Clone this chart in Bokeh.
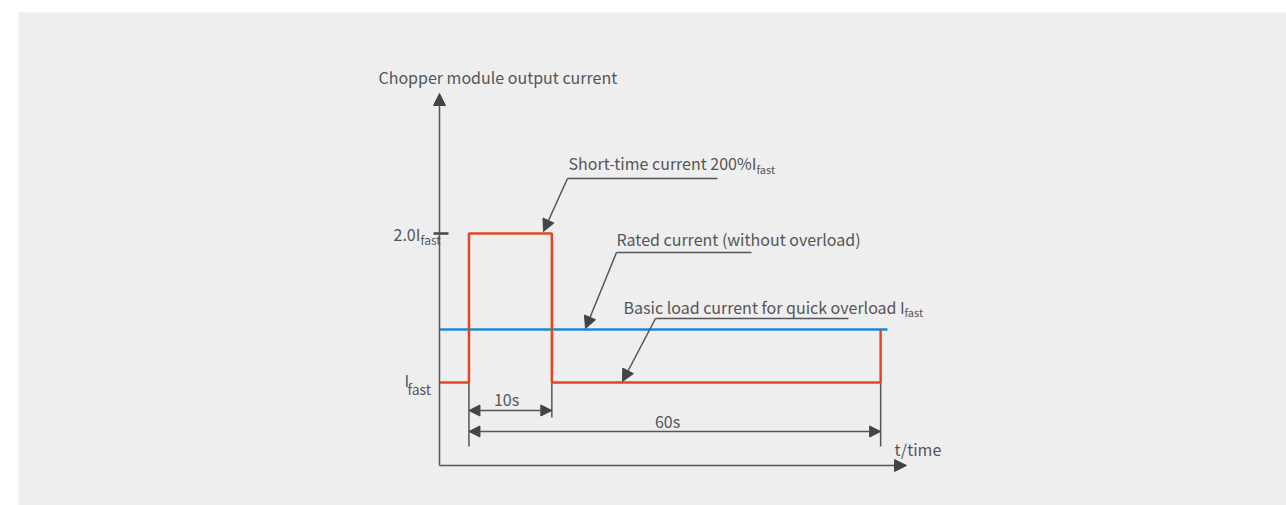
from bokeh.plotting import figure
from bokeh.models import Arrow, NormalHead, Label, Range1d
from bokeh.embed import file_html
from bokeh.resources import INLINE

# ---- schematic data (time positions in schematic units, current in multiples of I_fast) ----
red_time = [0, 4.3, 4.3, 16.4, 16.4, 64.4, 64.4]
red_current = [1.0, 1.0, 2.0, 2.0, 1.0, 1.0, 1.356]
rated_time = [0, 65.4]
rated_current = [1.356, 1.356]
t_rise, t_fall, t_end = 4.3, 16.4, 64.4
short_level, fast_level, rated_level = 2.0, 1.0, 1.356
dim_labels = ["10s", "60s"]
y_ticks = ["2.0I", "I"]

# ---- layout helpers (page pixel -> data) ----
def X(px):
    return (px - 439) / 6.85

def Y(py):
    return 1 + (382 - py) / 149.0

FONT = "Noto Sans CJK SC"
TXT = "#555555"
LINE = "#555555"
RED = "#e2481f"
BLUE = "#1a88d4"

p = figure(width=1286, height=505, output_backend="svg", toolbar_location=None,
           x_axis_type=None, y_axis_type=None,
           x_range=Range1d(X(18), X(1286)), y_range=Range1d(Y(505), Y(12)),
           min_border_left=18, min_border_top=12, min_border_right=0, min_border_bottom=0)
p.background_fill_color = "#eeeeee"
p.border_fill_color = "#ffffff"
p.outline_line_color = None
p.grid.visible = False

# axes with arrows
p.add_layout(Arrow(x_start=0, y_start=Y(465), x_end=0, y_end=Y(93),
                   line_color=LINE, line_width=1.5,
                   end=NormalHead(size=12, fill_color="#444444", line_color="#444444")))
p.add_layout(Arrow(x_start=0, y_start=Y(465), x_end=X(906), y_end=Y(465),
                   line_color=LINE, line_width=1.5,
                   end=NormalHead(size=12, fill_color="#444444", line_color="#444444")))

# tick at 2.0 I_fast
p.line([X(433), X(448)], [short_level, short_level], line_color="#444444", line_width=2.5)

# dimension extension lines
p.segment(x0=[t_rise, t_fall, t_end], y0=[fast_level, fast_level, fast_level],
          x1=[t_rise, t_fall, t_end], y1=[Y(446), Y(417), Y(446)],
          line_color=LINE, line_width=1.5)

# data lines
p.line(rated_time, rated_current, line_color=BLUE, line_width=2.5)
p.line(red_time, red_current, line_color=RED, line_width=2.5)

# dimension arrows
for xs, xe, yy in [(t_rise, t_fall, Y(410)), (t_rise, t_end, Y(431))]:
    p.add_layout(Arrow(x_start=xs, y_start=yy, x_end=xe, y_end=yy,
                       line_color=LINE, line_width=1.5,
                       start=NormalHead(size=11, fill_color="#444444", line_color="#444444"),
                       end=NormalHead(size=11, fill_color="#444444", line_color="#444444")))

# callout leaders
callouts = [
    (567, 717, 178, 543, 231),
    (616, 751, 252, 585, 328),
    (655, 848, 318, 622, 381),
]
for x0, x1, yy, xt, yt in callouts:
    p.line([X(x1), X(x0)], [Y(yy), Y(yy)], line_color=LINE, line_width=1.5)
    p.add_layout(Arrow(x_start=X(x0), y_start=Y(yy), x_end=X(xt), y_end=Y(yt),
                       line_color=LINE, line_width=1.5,
                       end=NormalHead(size=12, fill_color="#444444", line_color="#444444")))

TEXT_SHIFT = 7

def lab(text, px, py, size=16, align="left"):
    p.add_layout(Label(x=X(px), y=Y(py - TEXT_SHIFT), text=text, text_font=FONT,
                       text_font_size=f"{size}px", text_color=TXT,
                       text_align=align, text_baseline="alphabetic"))

lab("Chopper module output current", 378, 83)
lab("Short-time current 200%I", 568, 169)
lab("fast", 756, 175, 11)
lab("Rated current (without overload)", 616, 245)
lab("Basic load current for quick overload I", 623, 313)
lab("fast", 904, 318, 11)
lab(y_ticks[0], 393, 240)
lab("fast", 420, 246, 12)
lab(y_ticks[1], 404, 386)
lab("fast", 407, 395, 14)
lab(dim_labels[0], 506, 405, align="center")
lab(dim_labels[1], 667, 427, align="center")
lab("t/time", 894, 455)

open("out.html", "w").write(file_html(p, INLINE))
